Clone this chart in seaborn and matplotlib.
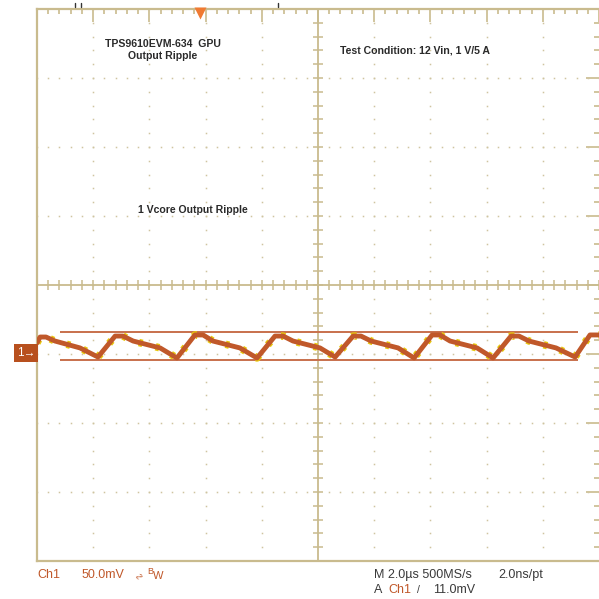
import numpy as np
import pandas as pd
import matplotlib
matplotlib.use("Agg")
import matplotlib.pyplot as plt
from matplotlib.lines import Line2D
import seaborn as sns

# ---- data (time in µs, voltage in mV, 2 µs/div, 50 mV/div) ----
trace_t = [0.00, 0.11, 0.32, 0.64, 1.53, 2.17, 2.78, 3.06, 3.42, 4.38, 4.98,
           5.62, 5.91, 6.26, 7.22, 7.83, 8.47, 8.76, 9.11, 10.07, 10.61,
           11.25, 11.53, 11.89, 12.85, 13.42, 14.06, 14.34, 14.70, 15.66, 16.23,
           16.87, 17.15, 17.51, 18.47, 19.15, 19.68, 20.00]
trace_v = [-42.0, -37.7, -37.7, -40.6, -45.6, -52.2, -37.0, -37.0, -40.6, -45.6, -52.9,
           -36.2, -36.2, -40.6, -45.6, -52.9, -37.0, -37.0, -40.6, -45.6, -52.2,
           -37.0, -37.0, -40.6, -45.6, -52.9, -36.2, -36.2, -40.6, -45.6, -52.9,
           -37.0, -37.0, -40.6, -45.6, -52.2, -36.2, -36.2]
cursor_levels = [-34.0, -54.0]
cursor_span = [0.82, 19.25]
ground_level = -50.0
trigger_time = 5.80

title_lines = ["TPS9610EVM-634  GPU", "Output Ripple"]
condition_text = "Test Condition: 12 Vin, 1 V/5 A"
signal_text = "1 Vcore Output Ripple"
ch_label = "Ch1"
volts_label = "50.0mV"
time_label = "M 2.0µs 500MS/s"
rate_label = "2.0ns/pt"
trig_level_label = "11.0mV"

df = pd.DataFrame({"t": trace_t, "v": trace_v})

TAN = "#c9bb8e"
DOT = "#cfc4a0"
BROWN = "#c0582a"
YELLOW = "#e8c80c"
CURSOR = "#c8704c"
TXT = "#2a2a2a"

sns.set_style("white")
plt.rcParams["font.family"] = ["Liberation Sans", "DejaVu Sans"]

fig = plt.figure(figsize=(5.99, 5.99), dpi=100)
ax = fig.add_axes([37 / 599, 38 / 599, 562 / 599, 552 / 599])
ax.set_xlim(0, 20)
ax.set_ylim(-200, 200)

# frame
for side, sp in ax.spines.items():
    sp.set_color(TAN)
    sp.set_linewidth(1.6)
ax.spines["right"].set_visible(False)

ax.set_xticks(np.arange(0, 20.01, 2))
ax.set_xticks(np.arange(0, 20.01, 0.4), minor=True)
ax.set_yticks(np.arange(-200, 200.1, 50))
ax.set_yticks(np.arange(-200, 200.1, 10), minor=True)
ax.tick_params(which="both", direction="in", color=TAN, width=1.2,
               top=True, right=True, labelbottom=False, labelleft=False)
ax.tick_params(which="major", length=9.5)
ax.tick_params(which="minor", length=3.6)

# dotted grid (dots at each subdivision)
xs_minor = np.arange(0, 20.01, 0.4)
ys_minor = np.arange(-200, 200.1, 10)
for gx in np.arange(2, 19, 2):
    if gx == 10:
        continue
    ax.plot(np.full_like(ys_minor, gx), ys_minor, ls="none", marker="s",
            ms=1.1, mec="none", mfc=DOT, zorder=1)
for gy in np.arange(-150, 151, 50):
    if gy == 0:
        continue
    ax.plot(xs_minor, np.full_like(xs_minor, gy), ls="none", marker="s",
            ms=1.1, mec="none", mfc=DOT, zorder=1)

# centre cross with ticks
ax.axhline(0, color=TAN, lw=1.3, zorder=1)
ax.axvline(10, color=TAN, lw=1.3, zorder=1)
ax.plot(xs_minor, np.zeros_like(xs_minor), ls="none", marker="|", ms=7.5,
        mew=1.1, color=TAN, zorder=1)
ax.plot(np.full_like(ys_minor, 10.0), ys_minor, ls="none", marker="_", ms=7.5,
        mew=1.1, color=TAN, zorder=1)

# cursors
ax.hlines(cursor_levels, cursor_span[0], cursor_span[1], color=CURSOR, lw=1.4, zorder=2)

# trace: yellow speckle underneath, brown on top
sns.lineplot(data=df, x="t", y="v", ax=ax, color=YELLOW, lw=5.4,
             linestyle=(0, (0.5, 1.8)), zorder=3, legend=False)
sns.lineplot(data=df, x="t", y="v", ax=ax, color=BROWN, lw=3.5, zorder=4, legend=False)
ax.set_xlabel("")
ax.set_ylabel("")

# trigger marker at top
ax.plot([trigger_time], [197], marker="v", ms=8, color="#f07a32", mec="none",
        clip_on=False, zorder=6)

# annotations
ax.text(4.48, 170.3, "\n".join(title_lines), ha="center", va="center",
        fontsize=7.6, fontweight="bold", color=TXT, linespacing=1.15)
ax.text(10.78, 169.6, condition_text, ha="left", va="center",
        fontsize=7.6, fontweight="bold", color=TXT)
ax.text(3.59, 54.3, signal_text, ha="left", va="center",
        fontsize=7.6, fontweight="bold", color=TXT)

# channel-1 ground marker
fig.text(26 / 599, 1 - 353 / 599, "1\u2192", ha="center", va="center",
         fontsize=8.5, color="white",
         bbox=dict(boxstyle="square,pad=0.22", fc="#b8501e", ec="none"))

# small marks at the very top
for px in (75, 81, 278):
    fig.add_artist(Line2D([px / 599, px / 599], [1 - 3 / 599, 1 - 7 / 599],
                          color="#333333", lw=1))

# readout text
NARROW = ["Liberation Sans", "DejaVu Sans"]
yb1 = 1 - 575 / 599
yb2 = 1 - 590 / 599
FS = 9.0
fig.text(37 / 599, yb1, ch_label, ha="left", va="center", fontsize=FS,
         color=BROWN, family=NARROW)
fig.text(82 / 599, yb1, volts_label, ha="left", va="center", fontsize=FS,
         color=BROWN, family=NARROW)
fig.text(134 / 599, yb1, "\u223f", ha="left", va="center", fontsize=7,
         color=BROWN, family=["DejaVu Sans"], rotation=70)
fig.text(147 / 599, yb1 + 3 / 599, "B", ha="left", va="center", fontsize=6.5,
         color=BROWN, family=NARROW)
fig.text(153 / 599, yb1 - 1 / 599, "W", ha="left", va="center", fontsize=8,
         color=BROWN, family=NARROW)
fig.text(374 / 599, yb1, time_label, ha="left", va="center", fontsize=FS,
         color="#3a3a3a", family=NARROW)
fig.text(498 / 599, yb1, rate_label, ha="left", va="center", fontsize=FS,
         color="#3a3a3a", family=NARROW)
fig.text(374 / 599, yb2, "A", ha="left", va="center", fontsize=FS,
         color="#3a3a3a", family=NARROW)
fig.text(388 / 599, yb2, ch_label, ha="left", va="center", fontsize=FS,
         color=BROWN, family=NARROW)
fig.text(417 / 599, yb2, "/", ha="left", va="center", fontsize=7.5,
         color="#3a3a3a", family=NARROW)
fig.text(433 / 599, yb2, trig_level_label, ha="left", va="center", fontsize=FS,
         color="#3a3a3a", family=NARROW)

fig.savefig("out.png", dpi=100, facecolor="white")
